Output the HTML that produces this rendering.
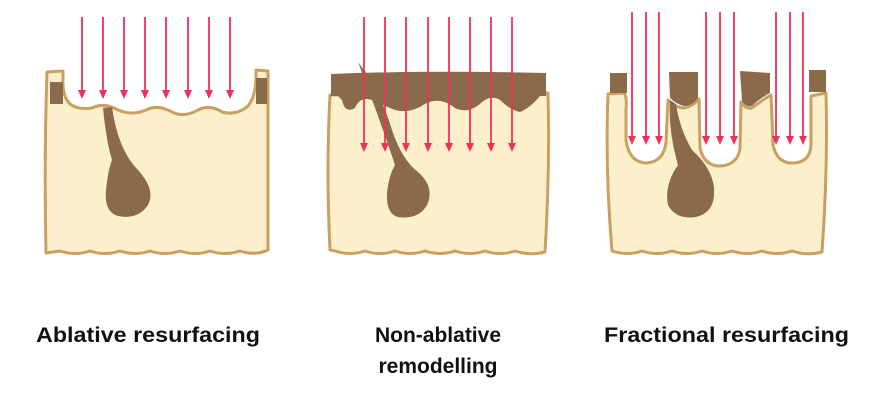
<!DOCTYPE html>
<html><head><meta charset="utf-8"><style>
html,body{margin:0;padding:0;background:#fff;}
svg{display:block}
text{font-family:"Liberation Sans",sans-serif;font-size:21px;font-weight:bold;fill:#111;}
</style></head><body>
<svg width="887" height="400" viewBox="0 0 887 400" xmlns="http://www.w3.org/2000/svg">
<g fill="#fcefcc" stroke="#c9a060" stroke-width="3" stroke-linejoin="round">
<!-- panel 1 -->
<path d="M47,72 L63,71 L63,78 Q62,96 70,104 Q78,110 92,108 Q104,102 118,110 Q132,116 146,110 Q158,104 172,112 Q184,118 198,110 Q210,104 222,112 Q236,116 248,106 Q256,96 256,76 L256,70 L268,71 L268,250 Q255,256 240,251 Q225,256 210,251 Q195,256 180,251 Q165,256 150,251 Q135,256 120,251 Q105,256 90,251 Q75,256 60,251 L46,253 Q44,160 47,72 Z"/>
<!-- panel 2 -->
<path d="M330,95 L548,93 Q550,170 545,252 Q530,256 515,251 Q500,256 485,251 Q470,256 455,251 Q440,256 425,251 Q410,256 395,251 Q380,256 365,251 Q350,256 335,251 L330,250 Q326,170 330,95 Z"/>
<!-- panel 3 -->
<path d="M608,94 L624,93 Q627,96 626,110 L626,140 Q629,162 646,163 Q664,162 666,142 L668,100 Q676,108 684,108 Q693,106 699,99 L700,148 Q704,166 720,166 Q738,165 740,148 L741,102 Q746,110 752,108 Q762,100 771,95 L773,145 Q777,163 792,163 Q810,163 811,145 L811,96 L826,93 Q828,170 822,252 Q807,256 792,251 Q777,256 762,251 Q747,256 732,251 Q717,256 702,251 Q687,256 672,251 Q657,256 642,251 Q627,256 612,251 Q605,170 608,94 Z"/>
</g>
<g fill="#8a6a4a">
<rect x="50" y="82" width="13" height="22"/>
<rect x="256" y="78" width="11" height="26"/>
<path d="M331,74 Q430,70 546,73 L546,96 L540,96 Q530,108 520,112 Q510,110 500,100 Q490,94 480,104 Q468,114 455,108 Q440,96 425,104 Q410,114 395,110 Q380,104 372,100 Q360,96 355,108 Q345,114 342,100 L338,96 L331,96 Z"/>
<rect x="610" y="73" width="17" height="20"/>
<path d="M669,72 L698,72 L698,98 Q692,106 684,106 Q676,104 670,98 Z"/>
<path d="M740,71 L770,73 L770,93 Q760,98 752,106 Q746,108 742,101 Z"/>
<rect x="809" y="70" width="17" height="22"/>
<path d="M103,108 L112,107 Q118,150 138,170 Q156,190 148,205 Q138,220 118,216 Q104,212 106,190 Q108,170 112,160 Q106,140 103,108 Z"/>
<path d="M358,62 Q380,90 392,130 Q402,160 418,172 Q434,186 428,203 Q420,220 398,217 Q386,214 387,193 Q389,175 395,165 Q380,120 358,62 Z"/>
<path d="M670,100 L676,104 Q680,130 692,150 Q712,168 714,188 Q716,212 696,217 Q676,220 668,205 Q664,185 678,165 Q668,130 670,100 Z"/>
</g>
<g stroke="#f0305a" stroke-width="1.8" fill="#f0305a">
<g id="a1">
<line x1="82" y1="17" x2="82" y2="92"/><path d="M78,90 L86,90 L82,99 Z" stroke="none"/>
</g>
<use href="#a1" x="21"/><use href="#a1" x="42"/><use href="#a1" x="63"/><use href="#a1" x="84"/><use href="#a1" x="106"/><use href="#a1" x="127"/><use href="#a1" x="148"/>
<g id="a2">
<line x1="364" y1="17" x2="364" y2="145"/><path d="M360,143 L368,143 L364,152 Z" stroke="none"/>
</g>
<use href="#a2" x="21"/><use href="#a2" x="42"/><use href="#a2" x="64"/><use href="#a2" x="85"/><use href="#a2" x="106"/><use href="#a2" x="127"/><use href="#a2" x="148"/>
<g id="a3">
<line x1="632" y1="12" x2="632" y2="138"/><path d="M628,136 L636,136 L632,145 Z" stroke="none"/>
</g>
<use href="#a3" x="14"/><use href="#a3" x="27"/><use href="#a3" x="74"/><use href="#a3" x="88"/><use href="#a3" x="102"/><use href="#a3" x="144"/><use href="#a3" x="158"/><use href="#a3" x="171"/>
</g>
<text x="36" y="342" textLength="224" lengthAdjust="spacingAndGlyphs">Ablative resurfacing</text>
<text x="438" y="342" text-anchor="middle">Non-ablative</text>
<text x="438" y="373" text-anchor="middle">remodelling</text>
<text x="604" y="342" textLength="245" lengthAdjust="spacingAndGlyphs">Fractional resurfacing</text>
</svg>
</body></html>
